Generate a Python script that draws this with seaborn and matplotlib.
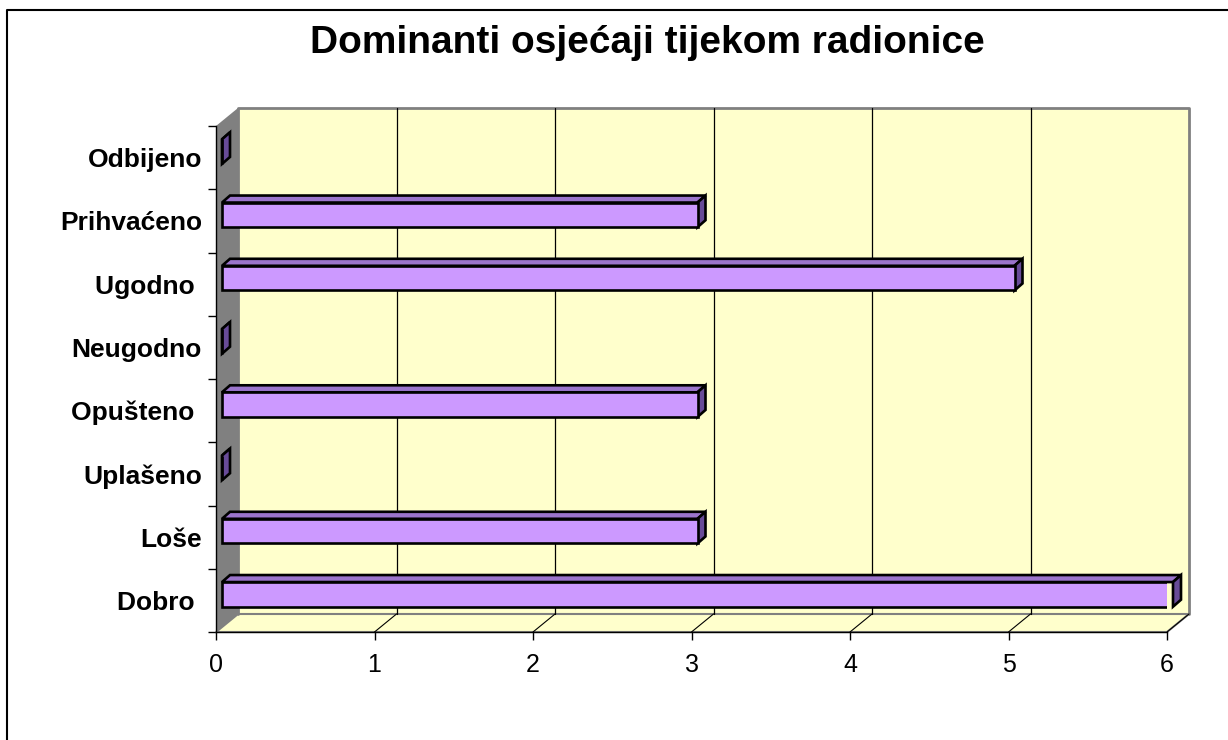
import matplotlib
matplotlib.use("Agg")
import matplotlib.pyplot as plt
import seaborn as sns
import pandas as pd
from matplotlib.patches import Polygon
from matplotlib.lines import Line2D
from matplotlib.transforms import IdentityTransform, offset_copy

# ---- data ----
categories = ["Odbijeno", "Prihvaćeno", "Ugodno ", "Neugodno", "Opušteno ", "Uplašeno", "Loše", "Dobro "]
values = [0, 3, 5, 0, 3, 0, 3, 6]
x_ticks = [0, 1, 2, 3, 4, 5, 6]
title = "Dominanti osjećaji tijekom radionice"

# ---- style ----
W, H, DPI = 1228, 740, 100
FRONT = "#CC99FF"
TOP = "#9B74CC"
SIDE = "#684B98"
WALL = "#FFFFCC"
GREYWALL = "#808080"
DEPTH = (22, 18)      # wall depth offset in pixels (display: +x right, +y up)
BAR_OFF = (6, 6)      # bar front face offset in pixels
BAR_DEPTH = (8, 7)    # bar 3-D depth in pixels
BAR_LW = 1.9

sns.set_theme(style="white")
plt.rcParams["font.family"] = ["Liberation Sans", "DejaVu Sans"]
plt.rcParams["text.color"] = "black"
plt.rcParams["xtick.color"] = "black"
plt.rcParams["ytick.color"] = "black"

fig = plt.figure(figsize=(W / DPI, H / DPI), dpi=DPI)
x0, x1, ytop, ybot = 216, 1167, 126, 632
ax = fig.add_axes([x0 / W, 1 - ybot / H, (x1 - x0) / W, (ybot - ytop) / H])
ax.set_facecolor("none")

df = pd.DataFrame({"cat": categories, "val": values})
sns.barplot(data=df, x="val", y="cat", orient="h", color=FRONT, saturation=1,
            edgecolor="black", linewidth=BAR_LW, width=0.39, ax=ax, zorder=5)
ax.set_xlim(0, 6)
ax.set_ylim(len(categories) - 0.5, -0.5)
ax.set_xlabel("")
ax.set_ylabel("")

ident = IdentityTransform()
fig.canvas.draw()
T = ax.transData


def disp(xv, yv):
    return T.transform((xv, yv))


def back(p):
    return (p[0] + DEPTH[0], p[1] + DEPTH[1])


ylo, yhi = len(categories) - 0.5, -0.5
fl = disp(0, ylo)
fr = disp(6, ylo)
tl = disp(0, yhi)
tr = disp(6, yhi)

# back wall
bw = Polygon([back(fl), back(fr), back(tr), back(tl)], closed=True, facecolor=WALL,
             edgecolor="none", transform=ident, zorder=0.5, clip_on=False)
ax.add_patch(bw)
ax.add_line(Line2D([back(fl)[0], back(tl)[0], back(tr)[0], back(fr)[0]],
                   [back(fl)[1], back(tl)[1], back(tr)[1], back(fr)[1]],
                   color="#808080", lw=2, transform=ident, zorder=0.7, clip_on=False))
# gray left wall
gw = Polygon([fl, back(fl), back(tl), tl], closed=True, facecolor=GREYWALL,
             edgecolor="none", transform=ident, zorder=0.6, clip_on=False)
ax.add_patch(gw)
# floor
flr = Polygon([fl, fr, back(fr), back(fl)], closed=True, facecolor=WALL,
              edgecolor="#808080", lw=1.5, transform=ident, zorder=0.6, clip_on=False)
ax.add_patch(flr)

# gridlines on back wall + floor diagonals
for xv in x_ticks[1:]:
    f = disp(xv, ylo)
    b = back(f)
    bt = back(disp(xv, yhi))
    if xv < 6:
        ax.add_line(Line2D([b[0], bt[0]], [b[1], bt[1]], color="black", lw=0.9,
                           transform=ident, zorder=0.8, clip_on=False))
    ax.add_line(Line2D([f[0], b[0]], [f[1], b[1]], color="black", lw=0.8,
                       transform=ident, zorder=0.8, clip_on=False))

# bars: shift front faces and add 3-D faces
off_tr = offset_copy(ax.transData, fig=fig, x=BAR_OFF[0], y=BAR_OFF[1], units="dots")
bar_patches = [p for p in ax.patches
               if p not in (bw, gw, flr) and hasattr(p, "get_width")]
for p in bar_patches:
    xb, yb, wb, hb = p.get_x(), p.get_y(), p.get_width(), p.get_height()
    p.set_transform(off_tr)
    a = disp(xb, yb)
    c = disp(xb + wb, yb + hb)
    left, right = a[0] + BAR_OFF[0], c[0] + BAR_OFF[0]
    top = max(a[1], c[1]) + BAR_OFF[1]
    bot = min(a[1], c[1]) + BAR_OFF[1]
    dx, dy = BAR_DEPTH
    topface = Polygon([(left, top), (right, top), (right + dx, top + dy), (left + dx, top + dy)],
                      closed=True, facecolor=TOP, edgecolor="black", lw=BAR_LW,
                      joinstyle="miter", transform=ident, zorder=4, clip_on=False)
    side = Polygon([(right, bot), (right + dx, bot + dy), (right + dx, top + dy), (right, top)],
                   closed=True, facecolor=SIDE, edgecolor="black", lw=BAR_LW,
                   joinstyle="miter", transform=ident, zorder=4, clip_on=False)
    ax.add_patch(topface)
    ax.add_patch(side)

# axes styling
for s in ["top", "right"]:
    ax.spines[s].set_visible(False)
for s in ["left", "bottom"]:
    ax.spines[s].set_visible(True)
    ax.spines[s].set_color("black")
    ax.spines[s].set_linewidth(1.0)
    ax.spines[s].set_zorder(3)

ax.set_xticks(x_ticks)
ax.set_xticklabels([str(v) for v in x_ticks])
ax.tick_params(axis="x", which="major", direction="out", length=6, width=1,
               color="black", labelcolor="black", labelsize=18, pad=9, bottom=True)
ax.set_yticks(range(len(categories)))
ax.set_yticklabels(categories, fontweight="bold")
ax.tick_params(axis="y", which="major", length=0, labelsize=19, labelcolor="black", pad=10)
ax.set_yticks([i - 0.5 for i in range(len(categories) + 1)], minor=True)
ax.tick_params(axis="y", which="minor", direction="out", length=6, width=1,
               color="black", left=True)
ax.grid(False)

# title
fig.text(647 / W, 1 - 43 / H, title, ha="center", va="center", fontsize=28,
         fontweight="bold", color="black")

# figure border (top and left edges visible in reference)
fig.add_artist(Line2D([7 / W, 7 / W, 1.0], [0.0, 1 - 10 / H, 1 - 10 / H],
                      color="black", lw=1.5, transform=fig.transFigure))

fig.savefig("out.png", dpi=DPI, facecolor="white")
